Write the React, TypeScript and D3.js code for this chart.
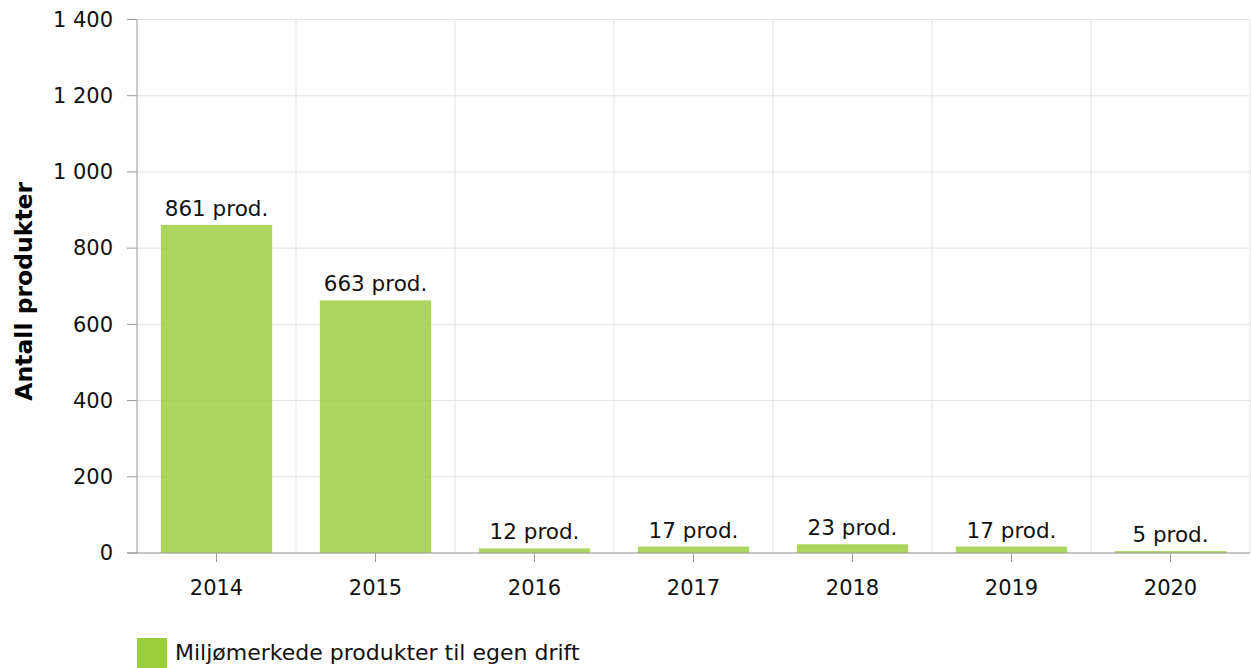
import React from 'react';
import * as d3 from 'd3';

const years = ['2014', '2015', '2016', '2017', '2018', '2019', '2020'];
const products = [861, 663, 12, 17, 23, 17, 5];
const yTicks = [0, 200, 400, 600, 800, 1000, 1200, 1400];

const W = 1251;
const H = 668;
const margin = { top: 19.5, right: 1, bottom: 115, left: 137 };
const font = 'Verdana, "DejaVu Sans", sans-serif';

const fmt = (v: number) => d3.format(',')(v).replace(/,/g, ' ');

const App = () => {
  const x = d3.scaleBand<string>()
    .domain(years)
    .range([margin.left, W - margin.right])
    .paddingInner(0.3)
    .paddingOuter(0.15);

  const y = d3.scaleLinear()
    .domain([0, 1400])
    .range([H - margin.bottom, margin.top]);

  const step = x.step();
  const bandStart = (i: number) => margin.left + i * step;
  const y0 = y(0);

  return (
    <svg width={W} height={H} style={{ position: 'absolute', left: 0, top: 0, fontFamily: font }}>
      {/* horizontal grid */}
      {yTicks.map(t => (
        <line key={'h' + t} x1={margin.left} x2={W - margin.right} y1={y(t)} y2={y(t)} stroke="#e3e3e3" />
      ))}
      {/* vertical grid at band boundaries */}
      {d3.range(1, years.length + 1).map(i => (
        <line key={'v' + i} x1={bandStart(i)} x2={bandStart(i)} y1={margin.top} y2={y0} stroke="#e3e3e3" />
      ))}

      {/* bars */}
      {years.map((yr, i) => (
        <rect key={yr} x={x(yr)} y={y(products[i])} width={x.bandwidth()} height={y0 - y(products[i])}
          fill="#9acd3c" fillOpacity={0.82} />
      ))}

      {/* value labels */}
      {years.map((yr, i) => (
        <text key={'l' + yr} x={(x(yr) as number) + x.bandwidth() / 2} y={y(products[i]) - 9}
          textAnchor="middle" fontSize={21.5} fill="#111">{products[i]} prod.</text>
      ))}

      {/* y axis */}
      <line x1={margin.left} x2={margin.left} y1={margin.top} y2={y0} stroke="#999" />
      {yTicks.map(t => (
        <g key={'yt' + t}>
          <line x1={margin.left - 10} x2={margin.left} y1={y(t)} y2={y(t)} stroke="#999" />
          <text x={113} y={y(t)} dy="0.35em" textAnchor="end" fontSize={21} fill="#111">{fmt(t)}</text>
        </g>
      ))}

      {/* x axis */}
      <line x1={margin.left - 10} x2={W - margin.right} y1={y0} y2={y0} stroke="#999" />
      {years.map(yr => {
        const cx = (x(yr) as number) + x.bandwidth() / 2;
        return (
          <g key={'xt' + yr}>
            <line x1={cx} x2={cx} y1={y0} y2={y0 + 9} stroke="#999" />
            <text x={cx} y={y0 + 42} textAnchor="middle" fontSize={21} fill="#111">{yr}</text>
          </g>
        );
      })}

      {/* y axis title */}
      <text transform={`translate(32, ${(margin.top + y0) / 2 + 5}) rotate(-90)`} textAnchor="middle"
        fontSize={23.5} fontWeight="bold" fill="#000">Antall produkter</text>

      {/* legend */}
      <rect x={137} y={638} width={30} height={30} fill="#9acd3c" />
      <text x={175} y={660} fontSize={22} fill="#111">Miljømerkede produkter til egen drift</text>
    </svg>
  );
};

export default App;
